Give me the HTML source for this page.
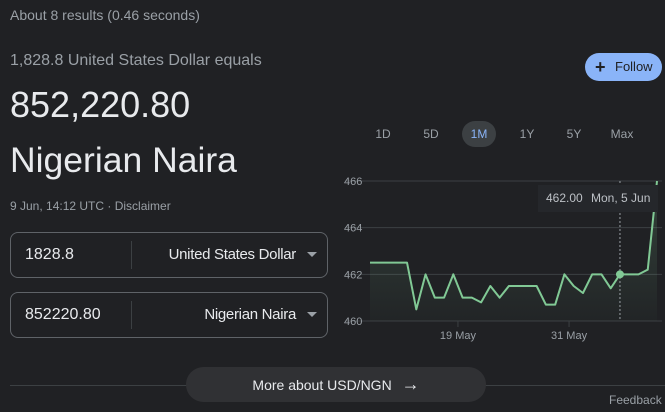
<!DOCTYPE html>
<html><head><meta charset="utf-8"><style>
body{margin:0;width:665px;height:412px;background:#202124;font-family:"Liberation Sans",sans-serif;overflow:hidden;position:relative;color:#bdc1c6}
.a{position:absolute;white-space:nowrap}
.box{position:absolute;left:10px;width:316px;height:44px;border:1px solid #5f6368;border-radius:8px}
.box .v{position:absolute;left:14px;top:13px;font-size:16px;color:#e8eaed}
.box .d{position:absolute;left:120px;top:8px;width:1px;height:28px;background:#3c4043}
.box .u{position:absolute;right:31px;top:13px;font-size:15px;color:#e8eaed;letter-spacing:-0.3px}
.box .c{position:absolute;right:10px;top:19px;width:0;height:0;border-left:5px solid transparent;border-right:5px solid transparent;border-top:5px solid #9aa0a6}
.rng{position:absolute;top:121px;font-size:12px;color:#9aa0a6;height:26px;line-height:26px;text-align:center;width:34px}
</style></head><body>
<div class="a" style="left:10px;top:7px;font-size:14px;color:#9aa0a6">About 8 results (0.46 seconds)</div>
<div class="a" style="left:10px;top:52px;font-size:16px;color:#9aa0a6">1,828.8 United States Dollar equals</div>
<div class="a" style="left:10px;top:84px;font-size:36px;color:#e8eaed">852,220.80</div>
<div class="a" style="left:10px;top:140px;font-size:35.5px;color:#e8eaed">Nigerian Naira</div>
<div class="a" style="left:10px;top:199px;font-size:12px;color:#9aa0a6">9 Jun, 14:12 UTC · <span>Disclaimer</span></div>
<div class="box" style="top:232px"><div class="v">1828.8</div><div class="d"></div><div class="u">United States Dollar</div><div class="c"></div></div>
<div class="box" style="top:292px"><div class="v">852220.80</div><div class="d"></div><div class="u">Nigerian Naira</div><div class="c"></div></div>
<div class="a" style="left:585px;top:53px;width:77px;height:28px;background:#8ab4f8;border-radius:14px;color:#202124;font-size:13px;line-height:28px"><span style="position:absolute;left:10px;font-size:18px;font-weight:bold">+</span><span style="position:absolute;left:30px">Follow</span></div>
<div class="rng" style="left:366px">1D</div>
<div class="rng" style="left:414px">5D</div>
<div class="rng" style="left:462px;background:#3c4043;border-radius:13px;color:#8ab4f8">1M</div>
<div class="rng" style="left:510px">1Y</div>
<div class="rng" style="left:557px">5Y</div>
<div class="rng" style="left:605px">Max</div>
<svg class="a" style="left:0;top:0" width="665" height="412" id="ch"></svg>
<div class="a" style="left:10px;top:385px;width:655px;height:1px;background:#3c4043"></div>
<div class="a" style="left:186px;top:367px;width:300px;height:35px;border-radius:18px;background:#303134;color:#e8eaed;font-size:14px;line-height:35px;text-align:center">More about USD/NGN <span style="font-size:18px;margin-left:6px">→</span></div>
<div class="a" style="left:609px;top:393px;font-size:12px;color:#9aa0a6">Feedback</div>
<script>
const values=[462.5,462.5,462.5,462.5,462.5,460.5,462,461,461,462,461,461,460.8,461.5,461,461.5,461.5,461.5,461.5,460.7,460.7,462,461.5,461.2,462,462,461.4,462,462,462,462.2,466];
const yTicks=[460,462,464,466];
const xTickLabels=["19 May","31 May"];
const xTickIdx=[9.5,21.5];
const hoverIdx=27;
const hoverValue="462.00";
const hoverDate="Mon, 5 Jun";
const NS="http://www.w3.org/2000/svg",svg=document.getElementById('ch');
const x=i=>370+i*(287/(values.length-1));
const y=v=>321-(v-460)*(140/6);
function mk(t,a){const e=document.createElementNS(NS,t);for(const k in a)e.setAttribute(k,a[k]);svg.appendChild(e);return e;}
yTicks.forEach(t=>{const l=mk('line',{x1:345,x2:662,y1:y(t),y2:y(t),stroke:'#3c4043','stroke-width':1});


const tx=mk('text',{x:344,y:y(t)+4,fill:'#9aa0a6','font-size':11,'font-family':'Liberation Sans'});tx.textContent=t;

});
xTickIdx.forEach((t,i)=>{mk('line',{x1:x(t),x2:x(t),y1:y(460),y2:y(460)+6,stroke:'#3c4043'});
const tx=mk('text',{x:x(t),y:y(460)+18,fill:'#9aa0a6','font-size':11,'text-anchor':'middle','font-family':'Liberation Sans'});tx.textContent=xTickLabels[i];

});
const defs=mk('defs',{});defs.innerHTML='<linearGradient id="g" x1="0" y1="0" x2="0" y2="1"><stop offset="0" stop-color="#81c995" stop-opacity="0.2"/><stop offset="1" stop-color="#81c995" stop-opacity="0.02"/></linearGradient>';
let d=values.map((v,i)=>(i?'L':'M')+x(i)+','+y(v)).join('');
const area=mk('path',{d:d+'L'+x(values.length-1)+','+y(460)+'L'+x(0)+','+y(460)+'Z',fill:'url(#g)'});


const ln=mk('path',{d:d,fill:'none',stroke:'#81c995','stroke-width':2,'stroke-linejoin':'round'});


const hl=mk('line',{x1:x(hoverIdx),x2:x(hoverIdx),y1:181,y2:y(460),stroke:'#9aa0a6','stroke-dasharray':'2,2','stroke-width':1});


const dot=mk('circle',{cx:x(hoverIdx),cy:y(values[hoverIdx]),r:4,fill:'#81c995'});


const tb=mk('rect',{x:538,y:185,width:120,height:27,fill:'#25272b'});


const tt=mk('text',{x:546,y:202,fill:'#bdc1c6','font-size':12,'font-family':'Liberation Sans'});tt.textContent=hoverValue;


const td=mk('text',{x:591,y:202,fill:'#bdc1c6','font-size':12,'font-family':'Liberation Sans'});td.textContent=hoverDate;


</script>
</body></html>
